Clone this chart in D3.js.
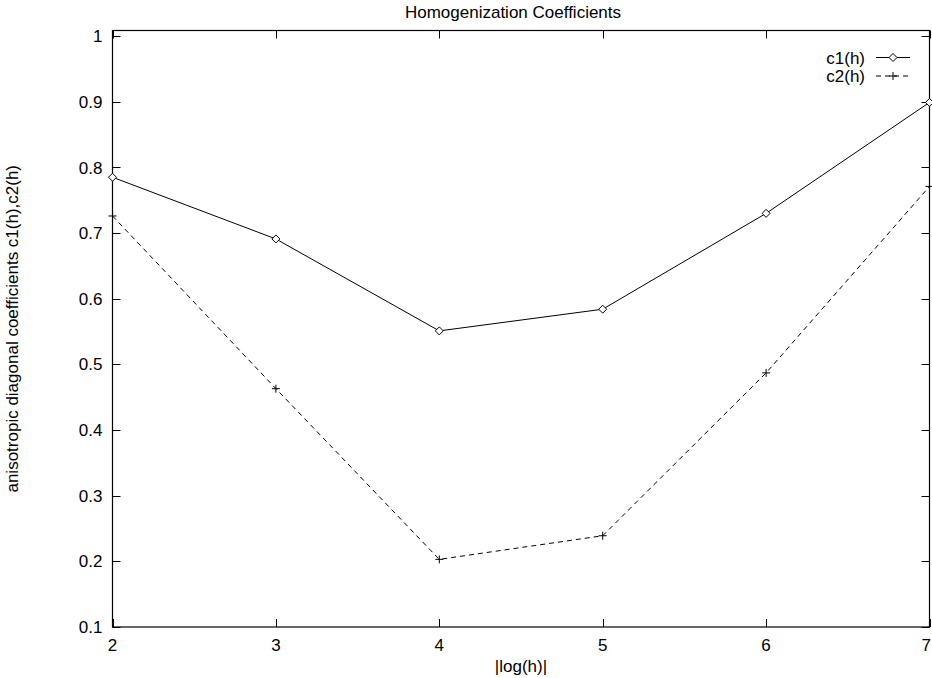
<!DOCTYPE html>
<html><head><meta charset="utf-8">
<script src="https://cdn.jsdelivr.net/npm/d3@7"></script>
<style>body{margin:0;background:#fff}svg{display:block}text{font-family:"Liberation Sans",Arial,sans-serif;fill:#000}</style>
</head><body><svg id="c" width="932" height="678"></svg>
<script>
const xValues = [2, 3, 4, 5, 6, 7];
const c1 = [0.785, 0.691, 0.551, 0.584, 0.730, 0.899];
const c2 = [0.726, 0.463, 0.203, 0.239, 0.487, 0.771];
const xTicks = [2, 3, 4, 5, 6, 7];
const yTicks = [0.1, 0.2, 0.3, 0.4, 0.5, 0.6, 0.7, 0.8, 0.9, 1];
const seriesNames = ["c1(h)", "c2(h)"];

const svg = d3.select("#c");
const L = 112.5, R = 929.5, T = 30.5, B = 627;
const x = d3.scaleLinear().domain([2, 7]).range([L, R]);
const y = d3.scaleLinear().domain([0.1, 1.0085]).range([B, T]);
const fs = 17;

svg.append("rect").attr("x", L).attr("y", T).attr("width", R - L).attr("height", B - T)
  .attr("fill", "none").attr("stroke", "#000").attr("stroke-width", 1.2);

const tl = 8;
const g = svg.append("g").attr("stroke", "#000").attr("stroke-width", 1);
yTicks.forEach(v => {
  const yy = Math.round(y(v)) + 0.5;
  g.append("line").attr("x1", L).attr("x2", L + tl).attr("y1", yy).attr("y2", yy);
  g.append("line").attr("x1", R).attr("x2", R - tl).attr("y1", yy).attr("y2", yy);
});
xTicks.forEach(v => {
  const xx = Math.round(x(v)) + 0.5;
  g.append("line").attr("x1", xx).attr("x2", xx).attr("y1", B).attr("y2", B - tl);
  g.append("line").attr("x1", xx).attr("x2", xx).attr("y1", T).attr("y2", T + tl);
});
svg.append("g").selectAll("text").data(yTicks).join("text")
  .attr("x", L - 10).attr("y", d => y(d)).attr("dy", "0.36em")
  .attr("text-anchor", "end").attr("font-size", fs).text(d => d3.format("")(d));
svg.append("g").selectAll("text").data(xTicks).join("text")
  .attr("x", (d, i) => i === xTicks.length - 1 ? 931 : x(d)).attr("y", B + 24)
  .attr("text-anchor", (d, i) => i === xTicks.length - 1 ? "end" : "middle")
  .attr("font-size", fs).text(d => d);

svg.append("text").attr("x", 513).attr("y", 18).attr("text-anchor", "middle")
  .attr("font-size", fs).text("Homogenization Coefficients");
svg.append("text").attr("x", (L + R) / 2).attr("y", 672).attr("text-anchor", "middle")
  .attr("font-size", fs).text("|log(h)|");
svg.append("text").attr("transform", `translate(18,${(T + B) / 2}) rotate(-90)`)
  .attr("text-anchor", "middle").attr("font-size", fs)
  .text("anisotropic diagonal coefficients c1(h),c2(h)");

const line = d3.line().x((d, i) => x(xValues[i])).y(d => y(d));
svg.append("path").datum(c1).attr("d", line).attr("fill", "none").attr("stroke", "#000").attr("stroke-width", 1);
svg.append("path").datum(c2).attr("d", line).attr("fill", "none").attr("stroke", "#000")
  .attr("stroke-width", 1).attr("stroke-dasharray", "5,4");

const ds = 4;
function diamond(cx, cy) { return `M${cx},${cy - ds}L${cx + ds},${cy}L${cx},${cy + ds}L${cx - ds},${cy}Z`; }
function plus(cx, cy) { return `M${cx - ds},${cy}H${cx + ds}M${cx},${cy - ds}V${cy + ds}`; }
svg.append("g").selectAll("path").data(c1).join("path")
  .attr("d", (d, i) => diamond(x(xValues[i]), y(d))).attr("fill", "#fff").attr("stroke", "#000").attr("stroke-width", 1);
svg.append("g").selectAll("path").data(c2).join("path")
  .attr("d", (d, i) => plus(x(xValues[i]), y(d))).attr("fill", "none").attr("stroke", "#000").attr("stroke-width", 1);

const lx1 = 876, lx2 = 910, ly = [57.5, 76];
seriesNames.forEach((n, i) => {
  svg.append("text").attr("x", 865).attr("y", ly[i]).attr("dy", "0.36em").attr("text-anchor", "end")
    .attr("font-size", fs).text(n);
  svg.append("line").attr("x1", lx1).attr("x2", lx2).attr("y1", ly[i]).attr("y2", ly[i])
    .attr("stroke", "#000").attr("stroke-width", 1).attr("stroke-dasharray", i ? "5,4" : null);
  const mx = (lx1 + lx2) / 2;
  svg.append("path").attr("d", i ? plus(mx, ly[i]) : diamond(mx, ly[i]))
    .attr("fill", i ? "none" : "#fff").attr("stroke", "#000");
});
</script></body></html>
